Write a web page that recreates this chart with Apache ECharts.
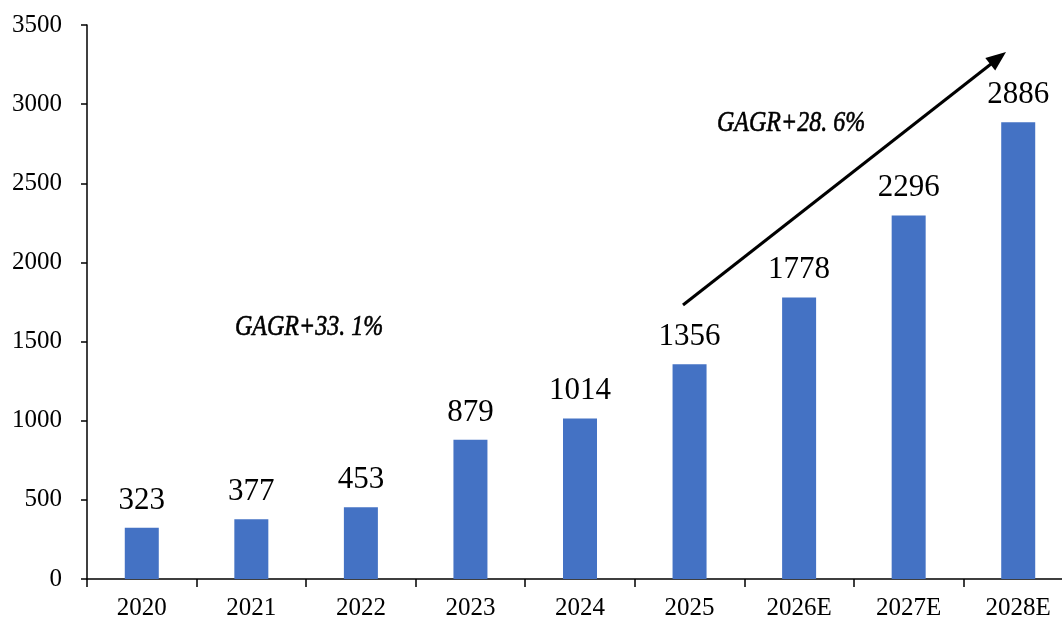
<!DOCTYPE html>
<html>
<head>
<meta charset="utf-8">
<script src="https://cdn.jsdelivr.net/npm/echarts@6/dist/echarts.min.js"></script>
<style>
  html, body { margin: 0; padding: 0; background: #fff; }
  #chart { width: 1062px; height: 620px; }
</style>
</head>
<body>
<div id="chart"></div>
<script>
const years = ['2020', '2021', '2022', '2023', '2024', '2025', '2026E', '2027E', '2028E'];
const values = [323, 377, 453, 879, 1014, 1356, 1778, 2296, 2886];
const yTicks = [0, 500, 1000, 1500, 2000, 2500, 3000, 3500];
const notes = ['GAGR+33. 1%', 'GAGR+28. 6%'];

const chart = echarts.init(document.getElementById('chart'));
const serif = '"Liberation Serif", "Times New Roman", serif';

chart.setOption({
  animation: false,
  backgroundColor: '#fff',
  grid: { left: 87, top: 25, width: 986, height: 554, containLabel: false, outerBoundsMode: 'none' },
  xAxis: {
    type: 'category',
    data: years,
    axisLine: { lineStyle: { color: '#000', width: 1.5 } },
    axisTick: { show: true, length: 8, lineStyle: { color: '#000', width: 1.5 } },
    axisLabel: { color: '#000', fontFamily: serif, fontSize: 25, margin: 17 }
  },
  yAxis: {
    type: 'value',
    min: yTicks[0],
    max: yTicks[yTicks.length - 1],
    interval: 500,
    axisLine: { show: true, lineStyle: { color: '#000', width: 1.5 } },
    axisTick: { show: true, length: 6, lineStyle: { color: '#000', width: 1.5 } },
    axisLabel: {
      color: '#000', fontFamily: serif, fontSize: 25, margin: 25,
      formatter: v => String(v)
    },
    splitLine: { show: false }
  },
  series: [{
    type: 'bar',
    data: values,
    barWidth: 34,
    itemStyle: { color: '#4472C4' },
    label: {
      show: true,
      position: 'top',
      distance: 12,
      color: '#000',
      fontFamily: serif,
      fontSize: 31
    }
  }],
  graphic: [
    {
      type: 'text', x: 235, y: 327, scaleY: 1.2,
      style: { text: notes[0], fill: '#000', font: 'italic 24px ' + serif, textVerticalAlign: 'middle', stroke: '#000', lineWidth: 0.5 }
    },
    {
      type: 'text', x: 717, y: 123, scaleY: 1.2,
      style: { text: notes[1], fill: '#000', font: 'italic 24px ' + serif, textVerticalAlign: 'middle', stroke: '#000', lineWidth: 0.5 }
    },
    {
      type: 'line',
      shape: { x1: 683, y1: 305, x2: 991, y2: 64 },
      style: { stroke: '#000', lineWidth: 3 }
    },
    {
      type: 'polygon',
      shape: { points: [[1006, 52], [995.2, 70.6], [985.3, 58.0]] },
      style: { fill: '#000' }
    }
  ]
});
</script>
</body>
</html>
